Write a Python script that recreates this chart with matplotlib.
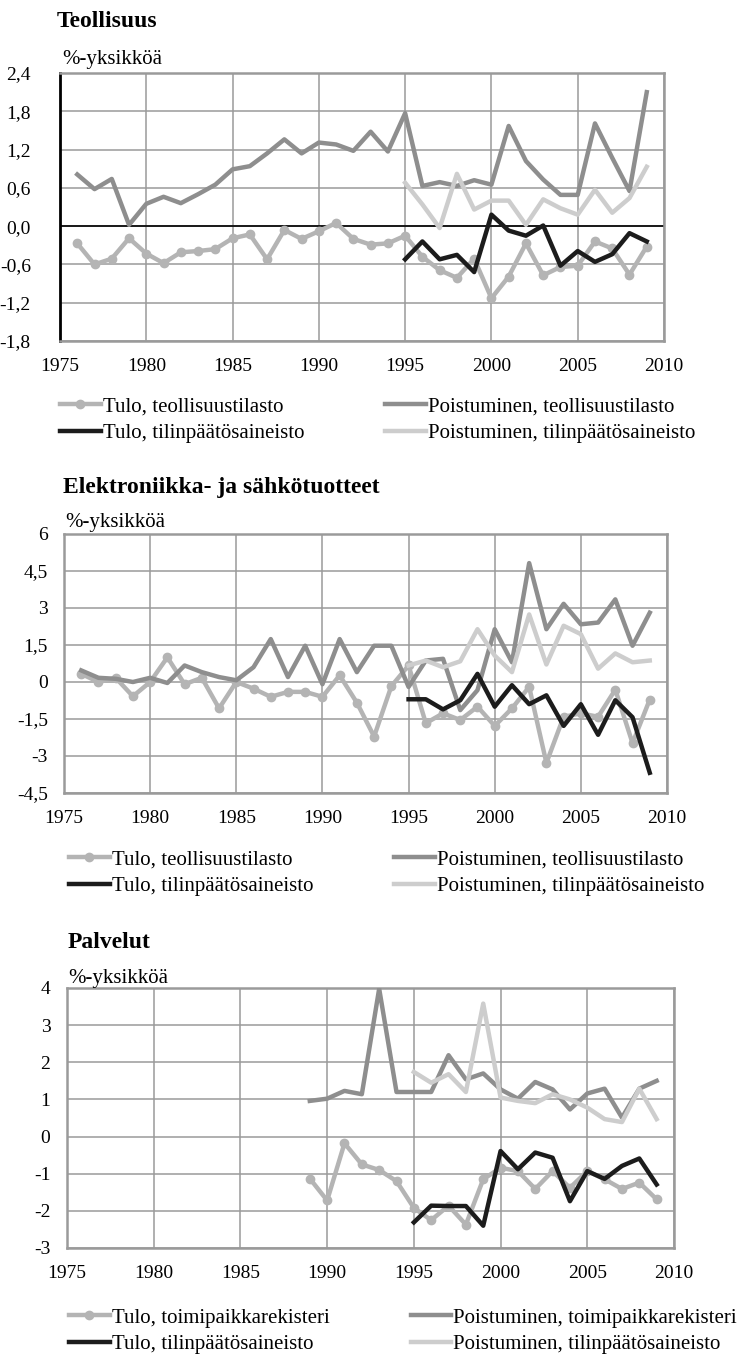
import numpy as np
import matplotlib
matplotlib.use('Agg')
import matplotlib.pyplot as plt

plt.rcParams['font.family'] = ['Liberation Serif', 'DejaVu Serif']

W, H = 751, 1357

# ---------------------------------------------------------------
# Data
# ---------------------------------------------------------------
YEARS_LONG = list(range(1976, 2010))
YEARS_SERV = list(range(1989, 2010))
YEARS_FS = list(range(1995, 2010))

# Teollisuus
TEO_TULO_STAT = [-0.27, -0.60, -0.51, -0.19, -0.43, -0.58, -0.41, -0.39, -0.36, -0.19,
                 -0.13, -0.52, -0.06, -0.20, -0.08, 0.05, -0.20, -0.29, -0.27, -0.15,
                 -0.48, -0.69, -0.81, -0.51, -1.13, -0.79, -0.27, -0.77, -0.64, -0.62,
                 -0.24, -0.35, -0.76, -0.32]
TEO_POIS_STAT = [0.81, 0.58, 0.74, 0.02, 0.35, 0.46, 0.36, 0.50, 0.65, 0.89,
                 0.94, 1.14, 1.36, 1.14, 1.31, 1.28, 1.18, 1.48, 1.17, 1.77,
                 0.63, 0.69, 0.63, 0.72, 0.65, 1.57, 1.02, 0.73, 0.49, 0.49,
                 1.61, 1.07, 0.55, 2.10]
TEO_TULO_FS = [-0.52, -0.24, -0.52, -0.45, -0.72, 0.18, -0.07, -0.15, 0.01, -0.62,
               -0.39, -0.56, -0.44, -0.11, -0.24]
TEO_POIS_FS = [0.68, 0.34, -0.03, 0.82, 0.26, 0.40, 0.40, 0.02, 0.42, 0.28,
               0.18, 0.57, 0.21, 0.44, 0.93]

# Elektroniikka- ja sähkötuotteet
ELE_TULO_STAT = [0.33, 0.00, 0.17, -0.58, 0.00, 1.00, -0.09, 0.17, -1.07, 0.00,
                 -0.27, -0.60, -0.40, -0.40, -0.60, 0.27, -0.84, -2.21, -0.17, 0.67,
                 -1.67, -1.27, -1.54, -1.00, -1.78, -1.07, -0.20, -3.28, -1.41, -1.27,
                 -1.41, -0.31, -2.48, -0.71]
ELE_POIS_STAT = [0.47, 0.17, 0.13, 0.00, 0.17, -0.04, 0.67, 0.40, 0.20, 0.07,
                 0.60, 1.74, 0.20, 1.47, -0.09, 1.74, 0.40, 1.47, 1.47, -0.20,
                 0.87, 0.94, -1.14, -0.33, 2.14, 0.80, 4.82, 2.14, 3.17, 2.34,
                 2.41, 3.35, 1.47, 2.81]
ELE_TULO_FS = [-0.70, -0.70, -1.11, -0.74, 0.33, -1.00, -0.13, -0.90, -0.54, -1.78,
               -0.90, -2.14, -0.74, -1.43, -3.68]
ELE_POIS_FS = [0.67, 0.87, 0.60, 0.84, 2.14, 1.07, 0.40, 2.74, 0.71, 2.28,
               1.94, 0.54, 1.16, 0.80, 0.87]

# Palvelut
PAL_TULO_REK = [-1.13, -1.72, -0.18, -0.75, -0.90, -1.20, -1.92, -2.25, -1.86, -2.37,
                -1.15, -0.84, -0.93, -1.41, -0.93, -1.38, -0.93, -1.15, -1.41, -1.24,
                -1.69]
PAL_POIS_REK = [0.96, 1.02, 1.23, 1.14, 3.98, 1.20, 1.20, 1.20, 2.19, 1.54,
                1.70, 1.27, 1.02, 1.47, 1.27, 0.73, 1.16, 1.29, 0.51, 1.29,
                1.50]
PAL_TULO_FS = [-2.31, -1.86, -1.87, -1.87, -2.40, -0.39, -0.88, -0.43, -0.57, -1.74,
               -0.93, -1.14, -0.79, -0.59, -1.29]
PAL_POIS_FS = [1.74, 1.45, 1.68, 1.20, 3.58, 1.05, 0.96, 0.90, 1.14, 1.00,
               0.78, 0.47, 0.39, 1.29, 0.47]

X_TICKS = [1975, 1980, 1985, 1990, 1995, 2000, 2005, 2010]

TEO_YTICKS = [-1.8, -1.2, -0.6, 0.0, 0.6, 1.2, 1.8, 2.4]
TEO_YLABELS = ['-1,8', '-1,2', '-0,6', '0,0', '0,6', '1,2', '1,8', '2,4']
ELE_YTICKS = [-4.5, -3, -1.5, 0, 1.5, 3, 4.5, 6]
ELE_YLABELS = ['-4,5', '-3', '-1,5', '0', '1,5', '3', '4,5', '6']
PAL_YTICKS = [-3, -2, -1, 0, 1, 2, 3, 4]
PAL_YLABELS = ['-3', '-2', '-1', '0', '1', '2', '3', '4']

# colours
C_TULO = '#b4b4b4'
C_POIS = '#8e8e8e'
C_TULO_FS = '#1c1c1c'
C_POIS_FS = '#cdcdcd'
C_GRID = '#9a9a9a'

LW = 3.2


def px_axes(left, top, right, bottom):
    return fig.add_axes([left / W, 1 - bottom / H, (right - left) / W, (bottom - top) / H])


def panel(box, title, title_xy, unit_xy, years, tulo, pois, tulo_fs, pois_fs,
          labels, yticks, ylabels, ypad, leg_xy, black_axis=False):
    ax = px_axes(*box)
    ax.plot(years, tulo, color=C_TULO, lw=LW, marker='o', ms=6, label=labels[0], zorder=3)
    ax.plot(years, pois, color=C_POIS, lw=LW, label=labels[1], zorder=3)
    ax.plot(YEARS_FS, tulo_fs, color=C_TULO_FS, lw=LW, label=labels[2], zorder=4)
    ax.plot(YEARS_FS, pois_fs, color=C_POIS_FS, lw=LW, label=labels[3], zorder=4)

    ax.set_xlim(1975, 2010)
    ax.set_ylim(yticks[0], yticks[-1])
    ax.set_xticks(X_TICKS)
    ax.set_yticks(yticks)
    ax.set_yticklabels(ylabels)
    ax.grid(True, color=C_GRID, lw=1.1)
    ax.set_axisbelow(True)
    ax.tick_params(axis='both', length=0, labelsize=14)
    ax.tick_params(axis='y', pad=ypad)
    ax.tick_params(axis='x', pad=12)
    for s in ax.spines.values():
        s.set_color(C_GRID)
        s.set_linewidth(1.8)
    if black_axis:
        ax.spines['left'].set_color('black')
        ax.spines['left'].set_linewidth(2.0)
        ax.axhline(0, color='black', lw=1.2, zorder=2)

    fig.text(title_xy[0] / W, 1 - title_xy[1] / H, title, fontsize=17,
             fontweight='bold', va='baseline', ha='left')
    fig.text(unit_xy[0] / W, 1 - unit_xy[1] / H, '%-yksikköä', fontsize=15,
             va='baseline', ha='left')

    h, l = ax.get_legend_handles_labels()
    order = [0, 2, 1, 3]
    ax.legend([h[i] for i in order], [l[i] for i in order], ncol=2,
              loc='upper left', bbox_to_anchor=(leg_xy[0] / W, 1 - leg_xy[1] / H),
              bbox_transform=fig.transFigure, frameon=False, fontsize=15,
              borderpad=0, borderaxespad=0, handlelength=1.95, handletextpad=0.1,
              columnspacing=3.9, labelspacing=0.33)
    return ax


fig = plt.figure(figsize=(W / 100, H / 100), dpi=100)

panel((60, 73, 664, 341), 'Teollisuus', (57, 27), (62, 64),
      YEARS_LONG, TEO_TULO_STAT, TEO_POIS_STAT, TEO_TULO_FS, TEO_POIS_FS,
      ['Tulo, teollisuustilasto', 'Poistuminen, teollisuustilasto',
       'Tulo, tilinpäätösaineisto', 'Poistuminen, tilinpäätösaineisto'],
      TEO_YTICKS, TEO_YLABELS, 21, (60, 397), black_axis=True)

panel((64, 534, 667, 793), 'Elektroniikka- ja sähkötuotteet', (63, 493), (65, 527),
      YEARS_LONG, ELE_TULO_STAT, ELE_POIS_STAT, ELE_TULO_FS, ELE_POIS_FS,
      ['Tulo, teollisuustilasto', 'Poistuminen, teollisuustilasto',
       'Tulo, tilinpäätösaineisto', 'Poistuminen, tilinpäätösaineisto'],
      ELE_YTICKS, ELE_YLABELS, 11.5, (69, 850))

panel((67, 988, 674, 1248), 'Palvelut', (68, 948), (68, 983),
      YEARS_SERV, PAL_TULO_REK, PAL_POIS_REK, PAL_TULO_FS, PAL_POIS_FS,
      ['Tulo, toimipaikkarekisteri', 'Poistuminen, toimipaikkarekisteri',
       'Tulo, tilinpäätösaineisto', 'Poistuminen, tilinpäätösaineisto'],
      PAL_YTICKS, PAL_YLABELS, 12, (69, 1308))

fig.savefig('out.png', dpi=100)
